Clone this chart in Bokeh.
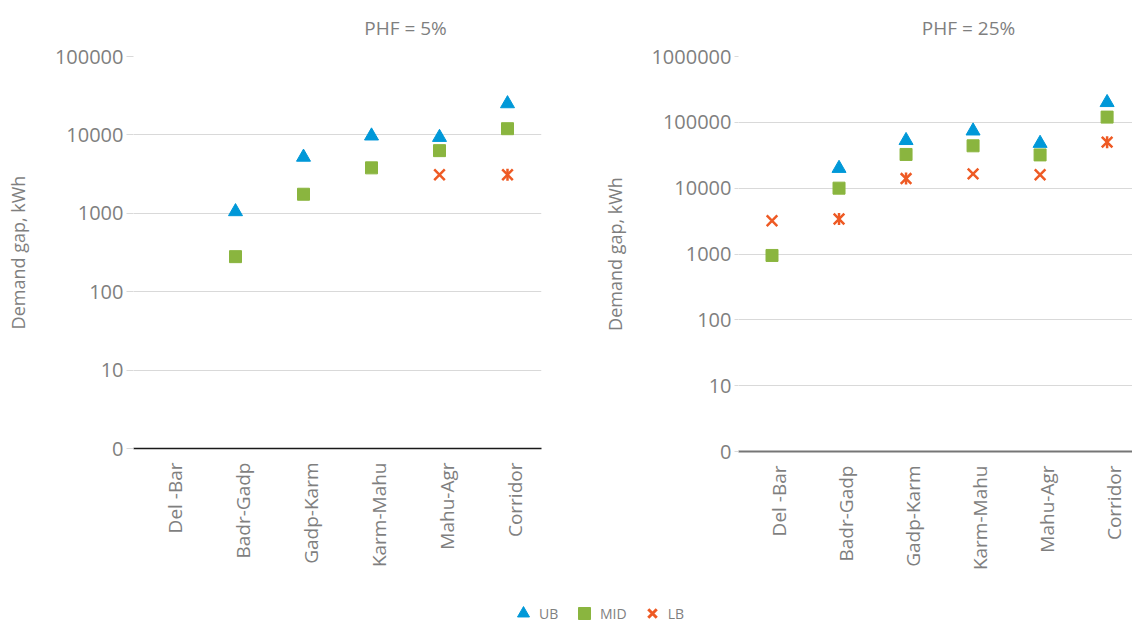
import math
from bokeh.plotting import figure
from bokeh.models import Range1d, FixedTicker, Legend, LegendItem
from bokeh.core.properties import value
from bokeh.layouts import row, column
from bokeh.embed import file_html
from bokeh.resources import INLINE

NaN = float("nan")

# ---------------- data ----------------
categories = ["Del -Bar", "Badr-Gadp", "Gadp-Karm", "Karm-Mahu", "Mahu-Agr", "Corridor"]

phf5_ub = [NaN, 1050, 5200, 9700, 9300, 25000]
phf5_mid = [NaN, 280, 1750, 3800, 6300, 12000]
phf5_lb = [NaN, NaN, NaN, NaN, 3100, 3100]
phf5_lb_star = [False, False, False, False, False, True]

phf25_ub = [NaN, 20000, 53000, 74000, 48000, 200000]
phf25_mid = [950, 10000, 32500, 44000, 32000, 120000]
phf25_lb = [3200, 3400, 14000, 16500, 16000, 50000]
phf25_lb_star = [False, True, True, False, False, True]

yticks_5 = [1, 10, 100, 1000, 10000, 100000]
ylabels_5 = ["0", "10", "100", "1000", "10000", "100000"]
yticks_25 = [1, 10, 100, 1000, 10000, 100000, 1000000]
ylabels_25 = ["0", "10", "100", "1000", "10000", "100000", "1000000"]

titles = ["PHF = 5%", "PHF = 25%"]
y_title = "Demand gap, kWh"
series_names = ["UB", "MID", "LB"]

# ---------------- style ----------------
FONT = "Open Sans"
GRAY = "#7f7f7f"
GRID = "#d9d9d9"
BLUE = "#0098d8"
GREEN = "#8ab53f"
RED = "#ee5a24"
LABEL_SHIFT = 0.11  # rotated category labels sit slightly right of the marker column
TITLE_X = [405, 968]  # pixel centres of the two panel titles in the header strip
TITLE_Y = 27


def make_panel(ub, mid, lb, lb_star, yticks, ylabels, width, height,
               b_left, b_right, b_bottom, x_end, tick_out,
               axis_color, axis_width, label_standoff):
    p = figure(width=width, height=height, y_axis_type="log",
               x_range=Range1d(-0.5, x_end),
               y_range=Range1d(yticks[0], yticks[-1]),
               output_backend="svg", toolbar_location=None,
               min_border_left=b_left, min_border_right=b_right,
               min_border_top=16, min_border_bottom=b_bottom)
    p.outline_line_color = None
    p.background_fill_color = "white"
    p.border_fill_color = "white"

    xs = list(range(len(categories)))

    # y axis
    ya = p.yaxis[0]
    ya.ticker = FixedTicker(ticks=yticks)
    ya.major_label_overrides = {t: l for t, l in zip(yticks, ylabels)}
    ya.axis_line_color = None
    ya.major_tick_line_color = GRID
    ya.major_tick_in = 0
    ya.major_tick_out = tick_out
    ya.minor_tick_line_color = None
    ya.major_label_standoff = 3
    ya.major_label_text_font = FONT
    ya.major_label_text_font_size = "20px"
    ya.major_label_text_color = GRAY
    ya.axis_label = y_title
    ya.axis_label_text_font = FONT
    ya.axis_label_text_font_size = "18px"
    ya.axis_label_text_font_style = "normal"
    ya.axis_label_text_color = GRAY
    ya.axis_label_standoff = label_standoff

    # x axis
    xa = p.xaxis[0]
    label_pos = [i + LABEL_SHIFT for i in xs]
    xa.ticker = FixedTicker(ticks=label_pos)
    xa.major_label_overrides = {pos: c for pos, c in zip(label_pos, categories)}
    xa.major_label_orientation = math.pi / 2
    xa.major_tick_line_color = None
    xa.minor_tick_line_color = None
    xa.axis_line_color = axis_color
    xa.axis_line_width = axis_width
    xa.major_label_standoff = 8
    xa.major_label_text_font = FONT
    xa.major_label_text_font_size = "19px"
    xa.major_label_text_color = GRAY

    p.xgrid.grid_line_color = None
    p.ygrid.grid_line_color = GRID
    p.ygrid.grid_line_width = 1
    p.ygrid.ticker = FixedTicker(ticks=yticks)

    p.scatter(xs, ub, marker="triangle", size=14, fill_color=BLUE, line_color=BLUE)
    p.scatter(xs, mid, marker="square", size=12, fill_color=GREEN, line_color=GREEN)
    p.scatter(xs, lb, marker="x", size=15, line_color=RED, line_width=2.5)
    star_y = [v if s else NaN for v, s in zip(lb, lb_star)]
    p.scatter(xs, star_y, marker="dash", angle=math.pi / 2, size=12,
              line_color=RED, line_width=2.5)
    return p


# header strip with the two panel titles
head = figure(width=1132, height=40, x_range=Range1d(0, 1132), y_range=Range1d(40, 0),
              output_backend="svg", toolbar_location=None, min_border=0,
              x_axis_location=None, y_axis_location=None)
head.outline_line_color = None
head.grid.visible = False
head.text(x=TITLE_X, y=[TITLE_Y] * len(titles), text=titles,
          text_align="center", text_baseline="middle",
          text_font=value(FONT), text_font_size="19px", text_color=GRAY)

p1 = make_panel(phf5_ub, phf5_mid, phf5_lb, phf5_lb_star,
                yticks_5, ylabels_5, width=600, height=540,
                b_left=133, b_right=59, b_bottom=132, x_end=5.5,
                tick_out=7, axis_color="#1a1a1a", axis_width=1.5,
                label_standoff=22)

p2 = make_panel(phf25_ub, phf25_mid, phf25_lb, phf25_lb_star,
                yticks_25, ylabels_25, width=532, height=543,
                b_left=134, b_right=0, b_bottom=132, x_end=-0.5 + 398 / 67.7,
                tick_out=4, axis_color="#767676", axis_width=2,
                label_standoff=21)

# legend strip
leg = figure(width=1132, height=38, x_range=Range1d(0, 1), y_range=Range1d(0, 1),
             output_backend="svg", toolbar_location=None, min_border=0,
             x_axis_location=None, y_axis_location=None)
leg.outline_line_color = None
leg.grid.visible = False
r_ub = leg.scatter([NaN], [NaN], marker="triangle", size=14, fill_color=BLUE, line_color=BLUE)
r_mid = leg.scatter([NaN], [NaN], marker="square", size=12, fill_color=GREEN, line_color=GREEN)
r_lb = leg.scatter([NaN], [NaN], marker="x", size=12, line_color=RED, line_width=3)
legend = Legend(items=[LegendItem(label=series_names[0], renderers=[r_ub]),
                       LegendItem(label=series_names[1], renderers=[r_mid]),
                       LegendItem(label=series_names[2], renderers=[r_lb])],
                orientation="horizontal", location=(508, -7),
                border_line_color=None, background_fill_alpha=0,
                label_text_font=FONT, label_text_font_size="14px",
                label_text_color=GRAY, glyph_width=30, glyph_height=30,
                label_standoff=1, spacing=10, padding=0, margin=0,
                label_height=14)
leg.add_layout(legend)

layout = column(head, row(p1, p2), leg)

open("out.html", "w").write(file_html(layout, INLINE))
